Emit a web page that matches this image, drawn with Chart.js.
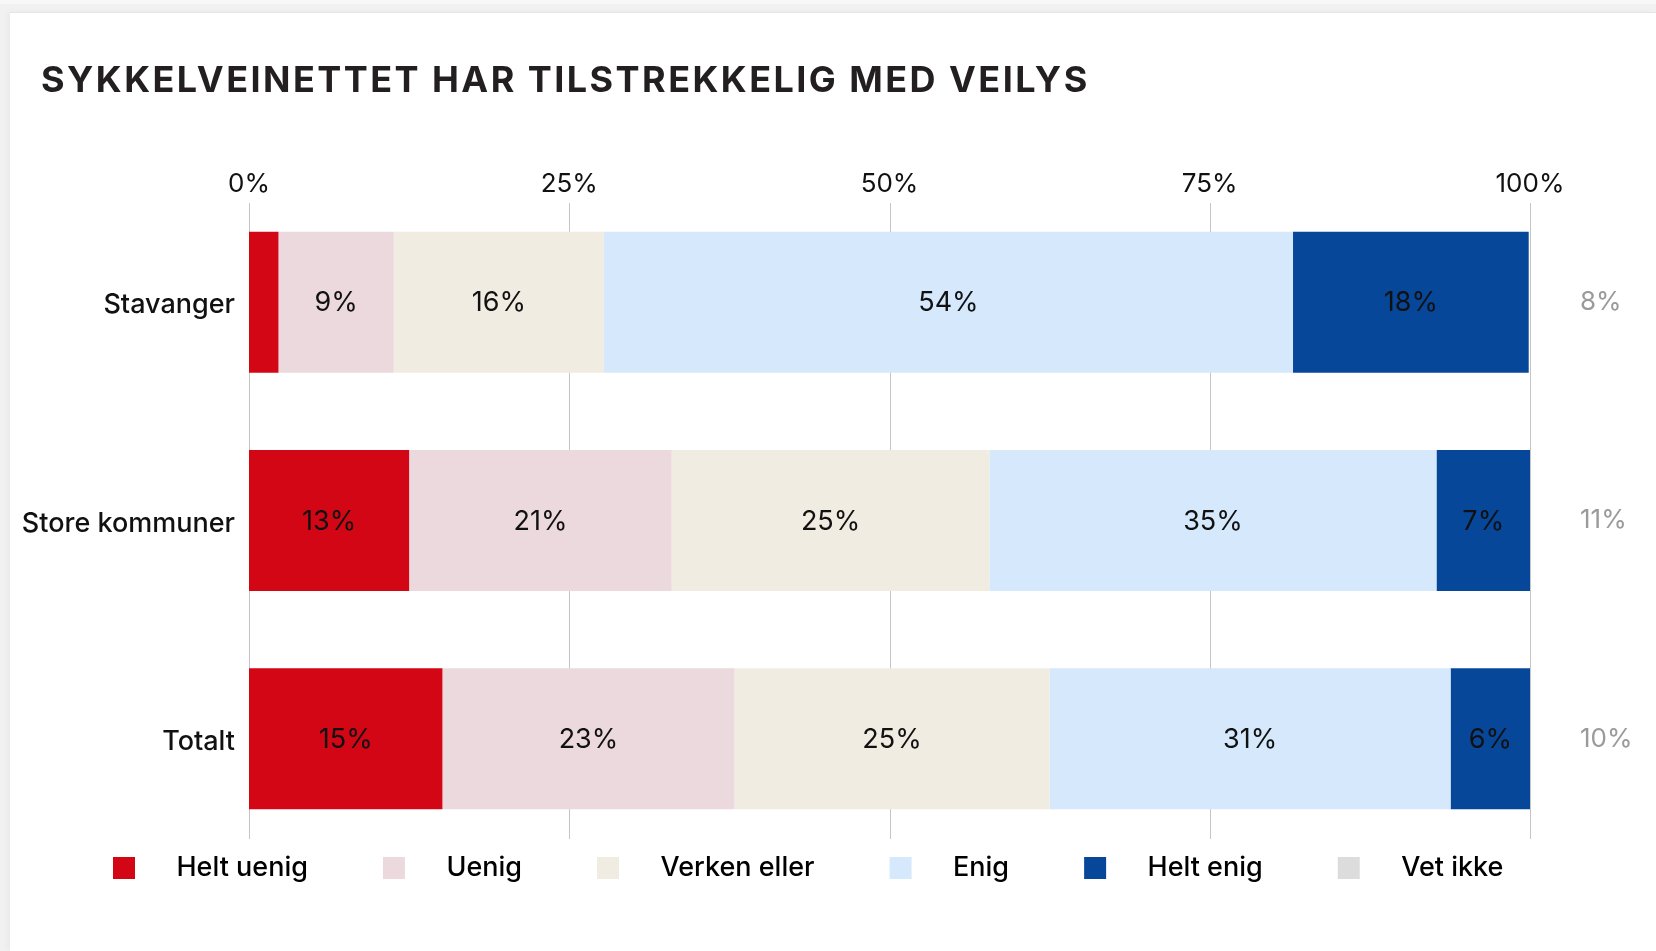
<!DOCTYPE html>
<html>
<head>
<meta charset="utf-8">
<script src="https://cdn.jsdelivr.net/npm/chart.js@4.4.1/dist/chart.umd.min.js"></script>
<style>
  html, body { margin: 0; padding: 0; }
  body {
    width: 1656px; height: 951px; overflow: hidden; position: relative;
    background: linear-gradient(to bottom, #f8f8f8 0, #f8f8f8 4px, #f1f1f1 4px);
  }
  .card {
    position: absolute; left: 10px; top: 12px; right: 0; bottom: 0;
    background: #fff; border-top: 1px solid #e4e4e4;
    box-shadow: -3px 0 5px rgba(0,0,0,0.03);
  }
  h1 {
    position: absolute; left: 41px; top: 61px; margin: 0;
    font: 700 36px/36px Inter, sans-serif; letter-spacing: 2.45px;
    color: #231f20; white-space: nowrap; z-index: 2;
  }
  canvas { position: absolute; left: 0; top: 0; z-index: 1; }
</style>
</head>
<body>
<div class="card"></div>
<h1>SYKKELVEINETTET HAR TILSTREKKELIG MED VEILYS</h1>
<canvas id="veilys" width="1656" height="951"></canvas>
<script>
var categories = ['Stavanger', 'Store kommuner', 'Totalt'];
var seriesNames = ['Helt uenig', 'Uenig', 'Verken eller', 'Enig', 'Helt enig'];
var heltUenig = [2.3, 12.5, 15.1];
var uenig = [9.0, 20.5, 22.8];
var verkenEller = [16.4, 24.8, 24.6];
var enig = [53.8, 34.9, 31.3];
var heltEnig = [18.4, 7.3, 6.2];
var vetIkke = [8, 11, 10];
var xTicks = [0, 25, 50, 75, 100];

var colors = ['#d30616', '#ecd9de', '#f1ece1', '#d5e8fc', '#07479a'];
var vetIkkeColor = '#dcdcdc';
var gridColor = '#c4c4c4';
var font = 'Inter, sans-serif';

// legend swatch: square with space before and after, so the gaps match
function swatch(color) {
    var c = document.createElement('canvas');
    c.width = 119; c.height = 22;
    var g = c.getContext('2d');
    g.fillStyle = color;
    g.fillRect(69, 0, 22, 22);
    return c;
}

// vertical grid lines, a bit shorter than the chart area
var gridLines = {
    id: 'gridLines',
    beforeDatasetsDraw: function(chart) {
        var ctx = chart.ctx, a = chart.chartArea, x = chart.scales.x;
        ctx.save();
        ctx.strokeStyle = gridColor;
        ctx.lineWidth = 1;
        x.ticks.forEach(function(t) {
            var px = Math.round(x.getPixelForValue(t.value)) + 0.5;
            ctx.beginPath();
            ctx.moveTo(px, a.top + 10);
            ctx.lineTo(px, a.bottom - 9);
            ctx.stroke();
        });
        ctx.restore();
    }
};

// values inside the bars + category names left of the bars
var barLabels = {
    id: 'barLabels',
    afterDatasetsDraw: function(chart) {
        var ctx = chart.ctx;
        ctx.save();
        ctx.font = '400 27px ' + font;
        ctx.fillStyle = '#111';
        ctx.textAlign = 'center';
        ctx.textBaseline = 'middle';
        chart.data.datasets.forEach(function(ds, i) {
            chart.getDatasetMeta(i).data.forEach(function(bar, j) {
                var v = ds.data[j];
                if (v < 5) return;
                var p = bar.getProps(['x', 'base', 'y'], true);
                ctx.fillText(Math.round(v) + '%', (p.x + p.base) / 2, p.y + 1);
            });
        });

        var yScale = chart.scales.y;
        ctx.font = '500 27px ' + font;
        ctx.textAlign = 'right';
        categories.forEach(function(c, i) {
            ctx.fillText(c, chart.chartArea.left - 14, yScale.getPixelForValue(i) + 3);
        });
        ctx.restore();
    }
};

var ctx = document.getElementById('veilys').getContext('2d');
var chart = new Chart(ctx, {
    type: 'bar',
    data: {
        labels: categories,
        datasets: [heltUenig, uenig, verkenEller, enig, heltEnig].map(function(d, i) {
            return {
                label: seriesNames[i],
                data: d,
                backgroundColor: colors[i],
                borderWidth: 0,
                categoryPercentage: 1,
                barPercentage: 0.646
            };
        })
    },
    options: {
        indexAxis: 'y',
        responsive: false,
        animation: false,
        layout: {
            padding: { top: 169, left: 38, right: 0, bottom: 60 }
        },
        scales: {
            x: {
                position: 'top',
                stacked: true,
                min: 0,
                max: 100,
                afterBuildTicks: function(s) {
                    s.ticks = xTicks.map(function(v) { return { value: v }; });
                },
                afterFit: function(s) { s.height = 24; },
                grid: { display: false, drawTicks: false },
                border: { display: false },
                ticks: {
                    padding: -4,
                    color: '#111',
                    font: { family: font, size: 26, lineHeight: 1 },
                    callback: function(v) { return v + '%'; }
                }
            },
            y: {
                stacked: true,
                grid: { display: false, drawTicks: false },
                border: { display: false },
                ticks: { display: false },
                afterFit: function(s) { s.width = 211; }
            },
            vet: {
                type: 'category',
                position: 'right',
                labels: vetIkke.map(function(v) { return v + '%'; }),
                offset: true,
                grid: { display: false, drawTicks: false },
                border: { display: false },
                afterFit: function(s) { s.width = 126; },
                ticks: {
                    padding: 50,
                    color: '#9a9a9a',
                    font: { family: font, size: 26 }
                }
            }
        },
        plugins: {
            title: { display: false },
            tooltip: { enabled: false },
            legend: {
                position: 'bottom',
                align: 'start',
                labels: {
                    usePointStyle: true,
                    pointStyleWidth: 119,
                    padding: 6,
                    color: '#111',
                    font: { family: font, size: 27, weight: 500 },
                    generateLabels: function() {
                        var names = seriesNames.concat(['Vet ikke']);
                        var fills = colors.concat([vetIkkeColor]);
                        return names.map(function(n, i) {
                            return {
                                text: n,
                                fillStyle: fills[i],
                                strokeStyle: fills[i],
                                lineWidth: 0,
                                pointStyle: swatch(fills[i]),
                                hidden: false,
                                datasetIndex: i
                            };
                        });
                    }
                }
            }
        }
    },
    plugins: [gridLines, barLabels]
});
</script>
</body>
</html>
